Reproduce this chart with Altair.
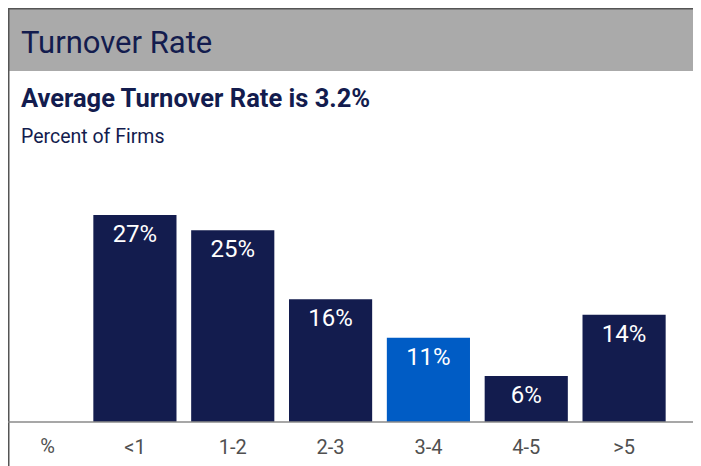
import altair as alt
import pandas as pd

categories = ["<1", "1-2", "2-3", "3-4", "4-5", ">5"]
values = [27, 25, 16, 11, 6, 14]
highlight = ["3-4"]

header_title = "Turnover Rate"
headline = "Average Turnover Rate is 3.2%"
subtitle = "Percent of Firms"
unit_label = "%"

NAVY = "#131c4e"
BLUE = "#005cc5"
FONT = "Roboto"

df = pd.DataFrame({
    "cat": categories,
    "value": values,
    "grp": ["hi" if c in highlight else "base" for c in categories],
})
one = pd.DataFrame({"a": [0]})

W, H = 587, 414
LEFT = -78          # plot-relative x of the chart's left edge
RIGHT = 607         # chart's right edge

x_enc = alt.X("cat:N", sort=categories,
              scale=alt.Scale(paddingInner=0.15, paddingOuter=0.075),
              axis=alt.Axis(title=None, domain=False, ticks=False, labelAngle=0,
                            labelFontSize=20, labelColor="#505050", labelFont=FONT,
                            labelBaseline="middle", labelPadding=25, grid=False))
y_enc = alt.Y("value:Q", scale=alt.Scale(domain=[0, 54.0], nice=False, zero=True),
              axis=None)

bars = alt.Chart(df).mark_bar().encode(
    x=x_enc, y=y_enc,
    color=alt.Color("grp:N", scale=alt.Scale(domain=["base", "hi"], range=[NAVY, BLUE]),
                    legend=None),
)

labels = alt.Chart(df).transform_calculate(
    label="datum.value + '%'"
).mark_text(baseline="alphabetic", dy=27, color="white", fontSize=24, font=FONT).encode(
    x=alt.X("cat:N", sort=categories), y="value:Q", text="label:N"
)

band = alt.Chart(one).mark_rect(color="#aaaaaa").encode(
    x=alt.value(LEFT), x2=alt.value(RIGHT), y=alt.value(0), y2=alt.value(63)
)
top_line = alt.Chart(one).mark_rule(color="#555555", strokeWidth=1.5).encode(
    x=alt.value(LEFT), x2=alt.value(RIGHT), y=alt.value(0.75)
)
left_line = alt.Chart(one).mark_rule(color="#555555", strokeWidth=1.5).encode(
    x=alt.value(LEFT + 0.75), y=alt.value(0), y2=alt.value(460)
)
axis_line = alt.Chart(one).mark_rule(color="#8a8a8a", strokeWidth=1.5).encode(
    x=alt.value(LEFT), x2=alt.value(RIGHT), y=alt.value(H)
)

t1 = alt.Chart(one).mark_text(text=header_title, align="left", baseline="alphabetic",
                              fontSize=31, font=FONT, color=NAVY).encode(
    x=alt.value(-65), y=alt.value(45))
t2 = alt.Chart(one).mark_text(text=headline, align="left", baseline="alphabetic",
                              fontSize=25.5, fontWeight="bold", font=FONT, color=NAVY).encode(
    x=alt.value(-65), y=alt.value(99))
t3 = alt.Chart(one).mark_text(text=subtitle, align="left", baseline="alphabetic",
                              fontSize=19.5, font=FONT, color=NAVY).encode(
    x=alt.value(-65), y=alt.value(135))
t4 = alt.Chart(one).mark_text(text=unit_label, align="center", baseline="middle",
                              fontSize=20, font=FONT, color="#505050").encode(
    x=alt.value(-38.5), y=alt.value(H + 25))

chart = alt.layer(band, top_line, left_line, bars, labels, axis_line, t1, t2, t3, t4).properties(
    width=W, height=H,
    autosize=alt.AutoSizeParams(type="none"),
    padding={"left": 78, "top": 0, "right": 20, "bottom": 44},
).configure_view(stroke=None)

chart.save("out.html", embed_options={"renderer": "svg", "actions": False})
